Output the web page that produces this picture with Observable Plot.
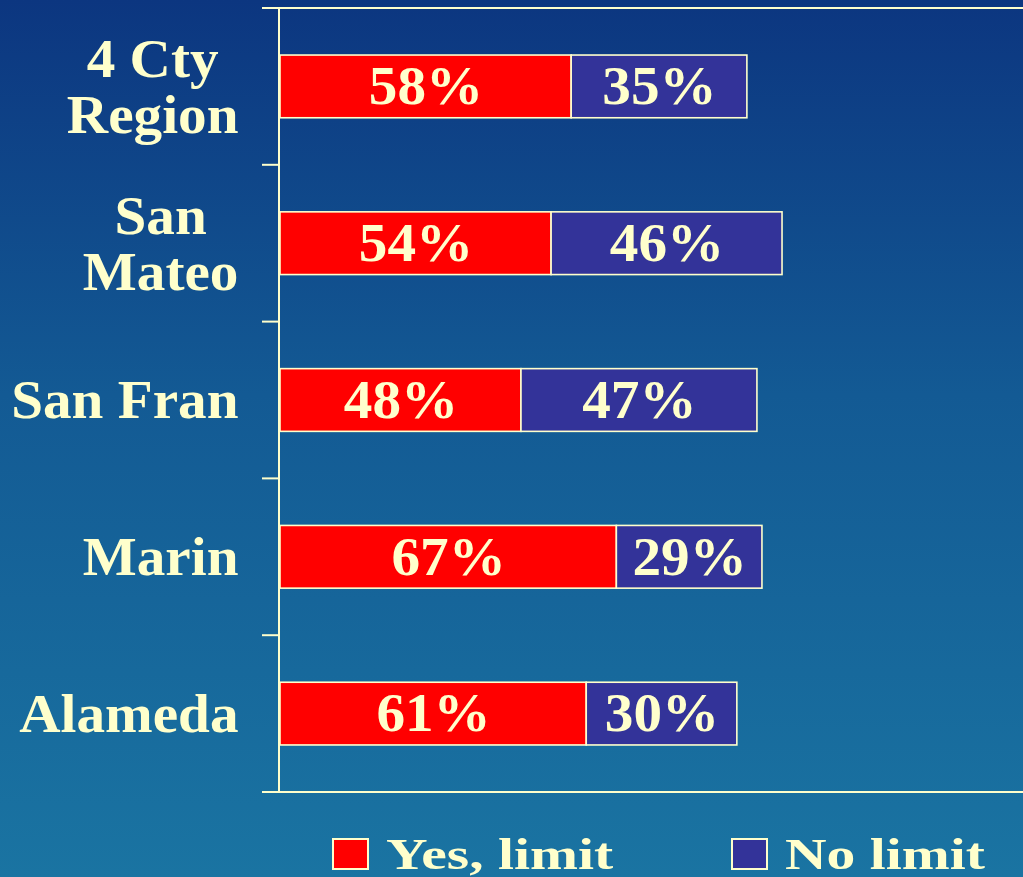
<!DOCTYPE html>
<html>
<head>
<meta charset="utf-8">
<script src="https://cdn.jsdelivr.net/npm/d3@7"></script>
<script src="https://cdn.jsdelivr.net/npm/@observablehq/plot@0.6"></script>
<style>
html, body { margin: 0; padding: 0; width: 1023px; height: 877px; overflow: hidden; }
body {
  background: linear-gradient(to bottom, #0c3680 0%, #135a94 45%, #1a74a2 100%);
  font-family: "Liberation Serif", "Times New Roman", serif;
}
#chart svg { display: block; }
#legend { position: relative; height: 77px; width: 1023px; }
#legend .sw { position: absolute; top: 38px; width: 33px; height: 28px; border: 2px solid #ffffcc; }
#legend .lab {
  position: absolute; top: 32px; line-height: 45px; font-size: 45px; font-weight: bold;
  color: #ffffcc; white-space: nowrap; transform: scaleX(1.28); transform-origin: left center;
}
</style>
</head>
<body>
<div id="chart"></div>
<div id="legend"></div>
<script>
// ---- data ----
const categories = ["4 Cty\nRegion", "San\nMateo", "San Fran", "Marin", "Alameda"];
const yesLimit = [58, 54, 48, 67, 61];
const noLimit = [35, 46, 47, 29, 30];
const seriesNames = ["Yes, limit", "No limit"];
const seriesColors = ["#ff0000", "#333399"];

const rows = categories.flatMap((c, i) => [
  {cat: c, series: seriesNames[0], value: yesLimit[i]},
  {cat: c, series: seriesNames[1], value: noLimit[i]}
]);

const cream = "#ffffcc";
const textStretch = 1.06;

// frame lines: axis, top/bottom rules and ticks at band boundaries
const frameLines = (index, scales, values, dims) => {
  const {width, height, marginTop, marginBottom, marginLeft} = dims;
  const y = scales.y;
  const step = y(categories[1]) - y(categories[0]);
  const xAxis = scales.x(0) - 1;
  const g = d3.create("svg:g").attr("stroke", cream).attr("stroke-width", 2).attr("fill", "none");
  const n = categories.length;
  for (let k = 0; k <= n; ++k) {
    const yy = marginTop + k * step;
    const edge = k === 0 || k === n;
    g.append("line").attr("x1", marginLeft).attr("x2", edge ? width : xAxis).attr("y1", yy).attr("y2", yy);
  }
  g.append("line").attr("x1", xAxis).attr("x2", xAxis).attr("y1", marginTop).attr("y2", height - marginBottom);
  return g.node();
};

const plot = Plot.plot({
  width: 1023,
  height: 800,
  marginTop: 8,
  marginBottom: 8,
  marginLeft: 262,
  marginRight: 0,
  style: {background: "transparent", fontFamily: "'Liberation Serif', 'Times New Roman', serif", overflow: "visible"},
  x: {domain: [0, 148], range: [280, 1023], axis: null},
  y: {domain: categories, axis: null, paddingInner: 0.6, paddingOuter: 0.3, round: false},
  color: {domain: seriesNames, range: seriesColors},
  marks: [
    Plot.barX(rows, Plot.stackX({y: "cat", x: "value", fill: "series", stroke: cream, strokeWidth: 1.6})),
    Plot.text(rows, Plot.stackX({
      y: "cat", x: "value", z: "series", text: d => d.value + "%",
      fill: cream, fontSize: 54, fontWeight: "bold"
    })),
    Plot.text(categories, {
      y: d => d, frameAnchor: "left", textAnchor: "end", dx: -24,
      fill: cream, fontSize: 54, fontWeight: "bold", lineHeight: 1.04
    }),
    frameLines
  ]
});

document.getElementById("chart").append(plot);

// slightly widen glyphs; center the lines of multi-line category labels within their block
d3.select(plot).selectAll("text").each(function() {
  const ts = this.querySelectorAll("tspan");
  const t = this.getAttribute("transform") || "";
  if (ts.length > 1) {
    const b = this.getBBox();
    this.setAttribute("text-anchor", "middle");
    this.setAttribute("transform", t + ` translate(${-b.width * textStretch / 2},0) scale(${textStretch},1)`);
  } else {
    this.setAttribute("transform", t + ` scale(${textStretch},1)`);
  }
});

// legend
const legend = d3.select("#legend");
const legendPos = [{sw: 332, lab: 386}, {sw: 731, lab: 785}];
seriesNames.forEach((s, i) => {
  legend.append("div").attr("class", "sw").style("left", legendPos[i].sw + "px").style("background", seriesColors[i]);
  legend.append("div").attr("class", "lab").style("left", legendPos[i].lab + "px").text(s);
});
</script>
</body>
</html>
